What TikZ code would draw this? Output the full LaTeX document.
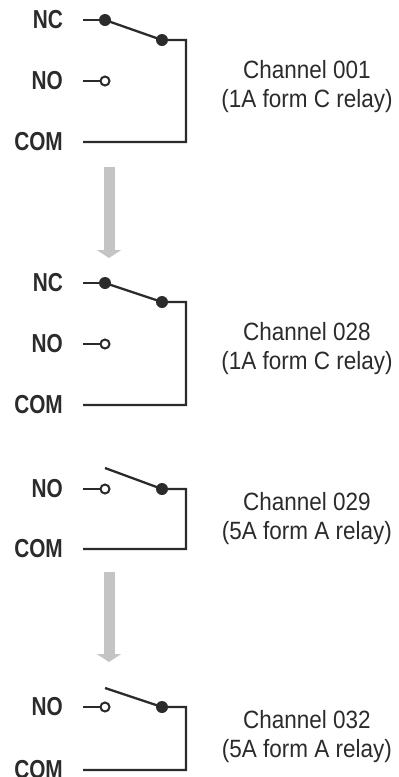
\documentclass[tikz,border=0pt]{standalone}
\usepackage{fontspec}
\setmainfont{Liberation Sans}[FakeStretch=0.9]
\newfontfamily\lblfont{Liberation Sans}[FakeStretch=0.8]
\usetikzlibrary{arrows.meta}
\definecolor{ink}{HTML}{2B2B2B}
\definecolor{arrowgray}{HTML}{C4C4C4}
\begin{document}
\begin{tikzpicture}[x=1pt,y=-1pt,
  wire/.style={draw=ink, line width=2.3pt, line join=miter},
  pin/.style={circle, fill=ink, inner sep=0pt, minimum size=12pt},
  openpin/.style={circle, draw=ink, fill=white, line width=2pt, inner sep=0pt, minimum size=9pt},
  term/.style={anchor=east, font=\lblfont\bfseries\fontsize{26}{26}\selectfont, text=ink, inner sep=0pt},
  desc/.style={align=center, font=\fontsize{25}{29}\selectfont, text=ink, inner sep=0pt},
  flow/.style={draw=arrowgray, line width=11pt, -{Triangle[width=24pt,length=8pt]}}]
\useasboundingbox (0,0) rectangle (399,777);

% ---------- Block 1: Channel 001 ----------
\node[term] (nc1) at (63,20) {NC};
\coordinate (nc1w) at (83,20);
\node[pin] (nc1p) at (105,20) {};
\node[pin] (c1) at (162,40) {};
\coordinate (c1r) at (186,40);
\node[term] (no1) at (63,81) {NO};
\coordinate (no1w) at (83,81);
\node[openpin] (no1p) at (105,81) {};
\node[term] (com1) at (63,142) {COM};
\coordinate (com1w) at (83,142);
\coordinate (com1r) at (186,142);
\draw[wire] (nc1w) -- (nc1p.center);
\draw[wire] (nc1p.center) -- (c1.center) -- (c1r) -- (com1r) -- (com1w);
\draw[wire] (no1w) -- (no1p.west);
\node[desc] (d1) at (307,87) {Channel 001\\(1A form C relay)};

% ---------- Arrow 1 ----------
\coordinate (a1s) at (109,167);
\coordinate (a1e) at (109,258);
\draw[flow] (a1s) -- (a1e);

% ---------- Block 2: Channel 028 ----------
\node[term] (nc2) at (63,283) {NC};
\coordinate (nc2w) at (83,283);
\node[pin] (nc2p) at (105,283) {};
\node[pin] (c2) at (162,302) {};
\coordinate (c2r) at (186,302);
\node[term] (no2) at (63,344) {NO};
\coordinate (no2w) at (83,344);
\node[openpin] (no2p) at (105,344) {};
\node[term] (com2) at (63,405) {COM};
\coordinate (com2w) at (83,405);
\coordinate (com2r) at (186,405);
\draw[wire] (nc2w) -- (nc2p.center);
\draw[wire] (nc2p.center) -- (c2.center) -- (c2r) -- (com2r) -- (com2w);
\draw[wire] (no2w) -- (no2p.west);
\node[desc] (d2) at (307,349) {Channel 028\\(1A form C relay)};

% ---------- Block 3: Channel 029 ----------
\coordinate (b3) at (105,468);
\node[pin] (c3) at (162,489) {};
\coordinate (c3r) at (186,489);
\node[term] (no3) at (63,489) {NO};
\coordinate (no3w) at (83,489);
\node[openpin] (no3p) at (105,489) {};
\node[term] (com3) at (63,549) {COM};
\coordinate (com3w) at (83,549);
\coordinate (com3r) at (186,549);
\draw[wire] (b3) -- (c3.center) -- (c3r) -- (com3r) -- (com3w);
\draw[wire] (no3w) -- (no3p.west);
\node[desc] (d3) at (307,519) {Channel 029\\(5A form A relay)};

% ---------- Arrow 2 ----------
\coordinate (a2s) at (109,572);
\coordinate (a2e) at (109,662);
\draw[flow] (a2s) -- (a2e);

% ---------- Block 4: Channel 032 ----------
\coordinate (b4) at (105,688);
\node[pin] (c4) at (162,707) {};
\coordinate (c4r) at (186,707);
\node[term] (no4) at (63,707) {NO};
\coordinate (no4w) at (83,707);
\node[openpin] (no4p) at (105,707) {};
\node[term] (com4) at (63,770) {COM};
\coordinate (com4w) at (83,770);
\coordinate (com4r) at (186,770);
\draw[wire] (b4) -- (c4.center) -- (c4r) -- (com4r) -- (com4w);
\draw[wire] (no4w) -- (no4p.west);
\node[desc] (d4) at (307,737) {Channel 032\\(5A form A relay)};
\end{tikzpicture}
\end{document}
